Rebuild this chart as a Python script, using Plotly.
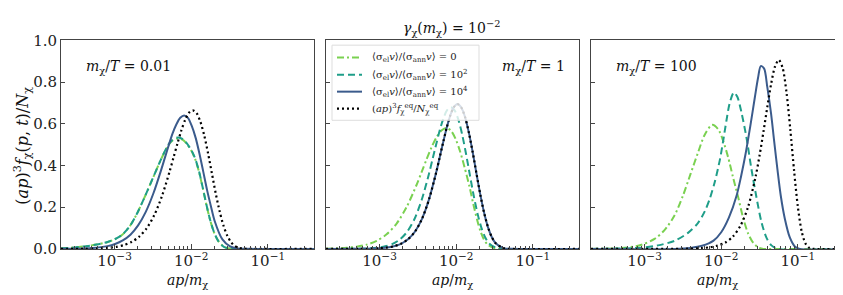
import plotly.graph_objects as go

# ---------------- data (x given as log10(ap/m_chi)) ----------------
# Panel 1 : m/T = 0.01
p1_green_lx = [-3.70, -3.50, -3.30, -3.10, -3.00, -2.90, -2.80, -2.70, -2.60, -2.50, -2.40, -2.30, -2.25, -2.172, -2.10,
               -2.00, -1.95, -1.90, -1.85, -1.80, -1.75, -1.70, -1.65, -1.60, -1.55, -1.45, -0.40]
p1_green_y = [0.002, 0.008, 0.017, 0.032, 0.046, 0.068, 0.110, 0.175, 0.255, 0.340, 0.425, 0.497, 0.518, 0.530, 0.521,
              0.472, 0.432, 0.372, 0.293, 0.208, 0.134, 0.077, 0.040, 0.018, 0.006, 0.0, 0.0]
p1_teal_lx = [-3.70, -3.50, -3.30, -3.10, -3.00, -2.90, -2.80, -2.70, -2.60, -2.50, -2.40, -2.30, -2.25, -2.172, -2.10,
              -2.00, -1.95, -1.90, -1.85, -1.80, -1.75, -1.70, -1.65, -1.60, -1.55, -1.45, -0.40]
p1_teal_y = [0.002, 0.008, 0.017, 0.032, 0.046, 0.068, 0.110, 0.175, 0.255, 0.340, 0.425, 0.500, 0.522, 0.535, 0.525,
             0.475, 0.435, 0.375, 0.295, 0.210, 0.135, 0.078, 0.040, 0.018, 0.006, 0.0, 0.0]
p1_blue_lx = [-3.70, -3.50, -3.293, -3.093, -2.993, -2.893, -2.793, -2.693, -2.593, -2.493, -2.393, -2.343, -2.293, -2.243,
              -2.193, -2.143, -2.093, -2.043, -1.993, -1.943, -1.893, -1.843, -1.793, -1.743, -1.693, -1.593, -1.493,
              -1.393, -1.293, -0.40]
p1_blue_y = [0.0003, 0.0011, 0.004, 0.0134, 0.0237, 0.041, 0.0685, 0.113, 0.178, 0.267, 0.378, 0.438, 0.498, 0.554,
             0.598, 0.629, 0.640, 0.629, 0.590, 0.534, 0.458, 0.371, 0.282, 0.205, 0.133, 0.0455, 0.012, 0.002, 0.0003, 0.0]
p1_eq_lx = [-3.70, -3.38, -3.18, -3.08, -2.98, -2.88, -2.78, -2.68, -2.58, -2.48, -2.38, -2.28, -2.23, -2.18, -2.13,
            -2.08, -2.03, -1.98, -1.93, -1.88, -1.83, -1.78, -1.73, -1.68, -1.63, -1.58, -1.53, -1.48, -1.43, -1.38,
            -1.33, -1.28, -0.40]
p1_eq_y = [0.0001, 0.0007, 0.0028, 0.0053, 0.0099, 0.0182, 0.0331, 0.0585, 0.0998, 0.1636, 0.2554, 0.374, 0.440, 0.505,
           0.567, 0.618, 0.653, 0.665, 0.652, 0.610, 0.544, 0.458, 0.362, 0.266, 0.182, 0.1127, 0.064, 0.032, 0.014,
           0.0055, 0.0018, 0.0005, 0.0]

# Panel 2 : m/T = 1
p2_green_lx = [-3.70, -3.558, -3.428, -3.298, -3.168, -3.038, -2.908, -2.778, -2.648, -2.518, -2.453, -2.388, -2.323,
               -2.258, -2.193, -2.128, -2.068, -2.008, -1.948, -1.888, -1.828, -1.778, -1.730, -1.685, -1.640, -1.595,
               -1.500, -1.410, -0.40]
p2_green_y = [0.0014, 0.0028, 0.0055, 0.0107, 0.0205, 0.0385, 0.0699, 0.1216, 0.2003, 0.3067, 0.3671, 0.4286, 0.4864,
              0.535, 0.5678, 0.580, 0.567, 0.5281, 0.466, 0.3874, 0.3007, 0.2166, 0.1434, 0.0864, 0.0468, 0.0226,
              0.0035, 0.0003, 0.0]
p2_teal_lx = [-3.70, -3.401, -3.211, -3.116, -3.021, -2.926, -2.831, -2.736, -2.641, -2.546, -2.451, -2.356, -2.309,
              -2.261, -2.214, -2.166, -2.119, -2.071, -2.021, -1.971, -1.921, -1.871, -1.821, -1.771, -1.721, -1.671,
              -1.621, -1.571, -1.471, -1.371, -0.40]
p2_teal_y = [0.0, 0.0004, 0.0017, 0.0033, 0.0065, 0.0126, 0.0241, 0.0451, 0.0819, 0.1426, 0.2348, 0.3596, 0.4304,
             0.5025, 0.5703, 0.6272, 0.6657, 0.680, 0.6648, 0.6192, 0.5463, 0.4542, 0.3526, 0.2539, 0.1682, 0.1013,
             0.0549, 0.0265, 0.0040, 0.0003, 0.0]
p2_blue_lx = [-3.70, -3.273, -3.089, -2.997, -2.905, -2.813, -2.721, -2.629, -2.537, -2.445, -2.353, -2.261, -2.215,
              -2.169, -2.123, -2.077, -2.031, -1.985, -1.935, -1.885, -1.835, -1.785, -1.735, -1.685, -1.635, -1.585,
              -1.535, -1.485, -1.385, -1.285, -0.40]
p2_blue_y = [0.0, 0.0004, 0.0017, 0.0034, 0.0066, 0.0129, 0.0246, 0.0461, 0.0837, 0.1457, 0.240, 0.3675, 0.440, 0.5136,
             0.583, 0.641, 0.680, 0.695, 0.679, 0.633, 0.558, 0.464, 0.360, 0.2595, 0.172, 0.1036, 0.0561, 0.0270,
             0.0041, 0.0003, 0.0]
p2_eq_lx = list(p2_blue_lx)
p2_eq_y = list(p2_blue_y)

# Panel 3 : m/T = 100
p3_green_lx = [-3.70, -3.40, -3.20, -3.04, -2.87, -2.74, -2.61, -2.50, -2.40, -2.30, -2.215, -2.119, -2.041, -1.976,
               -1.910, -1.850, -1.780, -1.715, -1.650, -1.584, -1.520, -1.45, -1.35, -0.40]
p3_green_y = [0.0, 0.002, 0.008, 0.020, 0.048, 0.090, 0.160, 0.255, 0.360, 0.465, 0.548, 0.595, 0.575, 0.520, 0.440,
              0.350, 0.250, 0.150, 0.075, 0.030, 0.008, 0.0, 0.0, 0.0]
p3_teal_lx = [-3.70, -3.04, -2.825, -2.607, -2.433, -2.302, -2.215, -2.150, -2.085, -2.019, -1.976, -1.932, -1.889,
              -1.835, -1.790, -1.736, -1.671, -1.606, -1.541, -1.475, -1.410, -1.345, -1.258, -0.40]
p3_teal_y = [0.0, 0.006, 0.017, 0.039, 0.077, 0.125, 0.180, 0.240, 0.320, 0.425, 0.515, 0.615, 0.700, 0.750, 0.730,
             0.655, 0.535, 0.384, 0.249, 0.129, 0.054, 0.017, 0.0, 0.0]
p3_blue_lx = [-3.70, -2.60, -2.40, -2.25, -2.10, -2.00, -1.90, -1.80, -1.74, -1.68, -1.62, -1.56, -1.52, -1.484, -1.44,
              -1.40, -1.35, -1.31, -1.266, -1.223, -1.17, -1.105, -1.04, -0.975, -0.40]
p3_blue_y = [0.0, 0.0, 0.005, 0.015, 0.040, 0.080, 0.150, 0.255, 0.350, 0.460, 0.590, 0.730, 0.820, 0.877, 0.865, 0.780,
             0.650, 0.520, 0.380, 0.255, 0.145, 0.055, 0.012, 0.0, 0.0]
p3_eq_lx = [-3.70, -2.449, -2.249, -2.149, -2.049, -1.949, -1.849, -1.749, -1.649, -1.549, -1.499, -1.449, -1.399,
            -1.349, -1.299, -1.249, -1.199, -1.149, -1.099, -1.049, -0.999, -0.949, -0.899, -0.849, -0.799, -0.40]
p3_eq_y = [0.0, 0.001, 0.004, 0.008, 0.016, 0.030, 0.059, 0.111, 0.202, 0.351, 0.450, 0.562, 0.680, 0.791, 0.874, 0.907,
           0.869, 0.753, 0.575, 0.374, 0.199, 0.082, 0.025, 0.005, 0.0006, 0.0]

panel_labels = ["<i>m</i><sub>χ</sub>/<i>T</i> = 0.01", "<i>m</i><sub>χ</sub>/<i>T</i> = 1",
                "<i>m</i><sub>χ</sub>/<i>T</i> = 100"]
legend_names = ["⟨σ<sub>el</sub><i>v</i>⟩/⟨σ<sub>ann</sub><i>v</i>⟩ = 0",
                "⟨σ<sub>el</sub><i>v</i>⟩/⟨σ<sub>ann</sub><i>v</i>⟩ = 10<sup>2</sup>",
                "⟨σ<sub>el</sub><i>v</i>⟩/⟨σ<sub>ann</sub><i>v</i>⟩ = 10<sup>4</sup>",
                "(<i>ap</i>)<sup>3</sup><i>f</i><sub>χ</sub><sup>eq</sup>/<i>N</i><sub>χ</sub><sup>eq</sup>"]
x_tick_vals = [1e-3, 1e-2, 1e-1]
x_tick_text = ["10<sup>−3</sup>", "10<sup>−2</sup>", "10<sup>−1</sup>"]
y_tick_vals = [0.0, 0.2, 0.4, 0.6, 0.8, 1.0]

# ---------------- styling ----------------
FONT = "DejaVu Serif"
colors = ["#7ad151", "#1f9e89", "#3b5b8c", "#000000"]
dashes = ["7px,3px,2px,3px", "7px,4px", "solid", "2px,3px"]
widths = [2.0, 2.0, 2.0, 2.2]

panels = [
    [(p1_green_lx, p1_green_y), (p1_teal_lx, p1_teal_y), (p1_blue_lx, p1_blue_y), (p1_eq_lx, p1_eq_y)],
    [(p2_green_lx, p2_green_y), (p2_teal_lx, p2_teal_y), (p2_blue_lx, p2_blue_y), (p2_eq_lx, p2_eq_y)],
    [(p3_green_lx, p3_green_y), (p3_teal_lx, p3_teal_y), (p3_blue_lx, p3_blue_y), (p3_eq_lx, p3_eq_y)],
]

W, H = 843, 295
xdoms = [(53, 306), (318, 571), (583, 836)]
ytop, ybot = 25, 247

fig = go.Figure()
for i, curves in enumerate(panels):
    sfx = "" if i == 0 else str(i + 1)
    for j, (lx, yy) in enumerate(curves):
        fig.add_trace(go.Scatter(
            x=[10 ** v for v in lx], y=yy, mode="lines",
            line=dict(color=colors[j], dash=dashes[j], width=widths[j], shape="spline", smoothing=0.8),
            name=legend_names[j], showlegend=False,
            xaxis="x" + sfx, yaxis="y" + sfx, hoverinfo="skip"))

minor_vals = [m * 10.0 ** k for k in range(-4, 0) for m in range(2, 10)]
layout = dict(width=W, height=H, margin=dict(l=0, r=0, t=0, b=0),
              paper_bgcolor="white", plot_bgcolor="white", showlegend=False,
              font=dict(family=FONT, size=15, color="#111"))
axcol = "#444"
for i, (a, b) in enumerate(xdoms):
    sfx = "" if i == 0 else str(i + 1)
    layout["xaxis" + sfx] = dict(
        type="log", range=[-3.699, -0.398], domain=[a / W, b / W], anchor="y" + sfx,
        showline=True, linecolor=axcol, linewidth=1, mirror=True, showgrid=False, zeroline=False,
        ticks="inside", ticklen=5, tickcolor=axcol, tickmode="array", tickvals=x_tick_vals, ticktext=x_tick_text,
        tickfont=dict(family=FONT, size=15, color="#222"), ticklabelstandoff=-2,
        minor=dict(ticks="inside", ticklen=2.5, tickcolor=axcol, tickmode="array", tickvals=minor_vals,
                   showgrid=False))
    layout["yaxis" + sfx] = dict(
        range=[0, 1.0], domain=[1 - ybot / H, 1 - ytop / H], anchor="x" + sfx,
        showline=True, linecolor=axcol, linewidth=1, mirror=True, showgrid=False, zeroline=False,
        ticks="inside", ticklen=4, tickcolor=axcol, tickmode="array", tickvals=y_tick_vals,
        tickformat=".1f", showticklabels=(i == 0), tickfont=dict(family=FONT, size=15, color="#222"))

# legend drawn in panel 2 (box, line samples, labels)
shapes = [dict(type="rect", xref="paper", yref="paper", x0=324 / W, x1=471 / W, y0=1 - 110 / H, y1=1 - 30 / H,
               fillcolor="rgba(255,255,255,0.8)", line=dict(color="#dddddd", width=1), layer="above")]
annotations = []
leg_y = [43, 61.5, 79.5, 97.5]
for j in range(4):
    yy = 1 - leg_y[j] / H
    shapes.append(dict(type="line", xref="paper", yref="paper", x0=329 / W, x1=354 / W, y0=yy, y1=yy,
                       line=dict(color=colors[j], dash=dashes[j], width=widths[j]), layer="above"))
    annotations.append(dict(text=legend_names[j], x=362 / W, y=yy, xanchor="left", yanchor="middle",
                            font=dict(size=10, color="#222")))

annotations += [
    dict(text="<i>γ</i><sub>χ</sub>(<i>m</i><sub>χ</sub>) = 10<sup>−2</sup>", x=443 / W, y=1 - 12 / H,
         xanchor="center", yanchor="middle", font=dict(size=14)),
    dict(text=panel_labels[0], x=76 / W, y=1 - 53 / H, xanchor="left", yanchor="middle", font=dict(size=14)),
    dict(text=panel_labels[1], x=559 / W, y=1 - 53 / H, xanchor="right", yanchor="middle", font=dict(size=14)),
    dict(text=panel_labels[2], x=606 / W, y=1 - 53 / H, xanchor="left", yanchor="middle", font=dict(size=14)),
    dict(text="(<i>ap</i>)<sup>3</sup><i>f</i><sub>χ</sub>(<i>p</i>, <i>t</i>)/<i>N</i><sub>χ</sub>",
         x=15 / W, y=1 - 137 / H, xanchor="center", yanchor="middle", textangle=-90, font=dict(size=16)),
]
for (a, b) in xdoms:
    annotations.append(dict(text="<i>ap</i>/<i>m</i><sub>χ</sub>", x=(a + b) / 2 / W, y=1 - 281 / H,
                            xanchor="center", yanchor="middle", font=dict(size=14)))
for an in annotations:
    an.update(xref="paper", yref="paper", showarrow=False)
layout["annotations"] = annotations
layout["shapes"] = shapes

fig.update_layout(**layout)
fig.write_html("out.html")
